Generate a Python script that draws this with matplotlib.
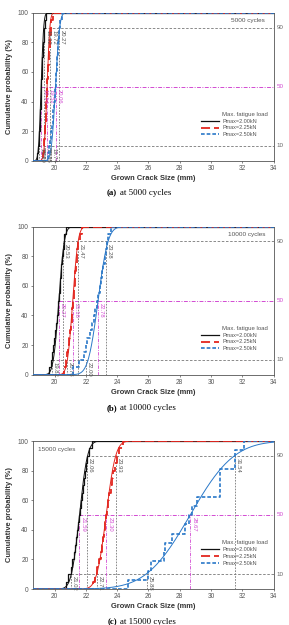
import math
import numpy as np
import matplotlib
matplotlib.use("Agg")
import matplotlib.pyplot as plt

plt.rcParams['font.family'] = ['Liberation Sans', 'DejaVu Sans']

# ---------------- data ----------------
cycles = ["5000", "10000", "15000"]
panel_letters = ["(a)", "(b)", "(c)"]
series_names = ["Pmax=2.00kN", "Pmax=2.25kN", "Pmax=2.50kN"]
legend_title = "Max. fatigue load"

# crack-size samples (mm)
a_black = [18.88, 18.95, 18.98, 19.01, 19.04, 19.06, 19.08, 19.10, 19.12, 19.14,
           19.16, 19.18, 19.20, 19.22, 19.25, 19.28, 19.31, 19.34, 19.38, 19.45]
a_red = [19.25, 19.31, 19.35, 19.38, 19.41, 19.43, 19.45, 19.47, 19.50, 19.52,
         19.54, 19.56, 19.59, 19.62, 19.65, 19.68, 19.71, 19.75, 19.80, 19.88]
a_blue = [19.55, 19.65, 19.72, 19.78, 19.84, 19.89, 19.93, 19.97, 20.01, 20.05,
          20.08, 20.11, 20.14, 20.17, 20.20, 20.23, 20.26, 20.30, 20.36, 20.46]
b_black = [19.62, 19.75, 19.82, 19.90, 19.97, 20.03, 20.09, 20.14, 20.19, 20.24,
           20.28, 20.32, 20.36, 20.40, 20.44, 20.48, 20.52, 20.57, 20.63, 20.72]
b_red = [20.62, 20.72, 20.79, 20.86, 20.93, 20.99, 21.04, 21.09, 21.13, 21.17,
         21.21, 21.25, 21.29, 21.33, 21.37, 21.41, 21.46, 21.52, 21.60, 21.74]
b_blue = [21.20, 21.55, 21.85, 22.00, 22.10, 22.25, 22.38, 22.50, 22.60, 22.70,
          22.80, 22.88, 22.96, 23.04, 23.12, 23.20, 23.27, 23.33, 23.42, 23.58]
c_black = [20.70, 20.85, 21.02, 21.12, 21.22, 21.30, 21.38, 21.45, 21.52, 21.58,
           21.64, 21.70, 21.76, 21.82, 21.88, 21.94, 22.02, 22.10, 22.20, 22.38]
c_red = [22.45, 22.60, 22.72, 22.85, 22.95, 23.05, 23.12, 23.19, 23.25, 23.30,
         23.36, 23.43, 23.50, 23.58, 23.66, 23.75, 23.88, 24.00, 24.15, 24.40]
c_blue = [24.67, 25.98, 26.15, 27.00, 27.07, 27.50, 28.37, 28.60, 28.80, 29.13,
          30.61, 30.61, 30.61, 31.52, 31.52, 32.13]

samples = [[a_black, a_red, a_blue], [b_black, b_red, b_blue], [c_black, c_red, c_blue]]

# 10 %, 50 %, 90 % crack sizes (labelled on chart)
p10 = [[18.99, 19.36, 19.74], [19.82, 20.78, 22.00], [21.02, 22.71, 25.88]]
p50 = [[19.14, 19.52, 20.06], [20.27, 21.16, 22.78], [21.59, 23.30, 28.67]]
p90 = [[19.32, 19.72, 20.27], [20.53, 21.47, 23.28], [22.06, 23.93, 31.54]]

prob_levels = [10, 50, 90]
x_ticks = [20, 22, 24, 26, 28, 30, 32, 34]
y_ticks = [0, 20, 40, 60, 80, 100]

# ---------------- style ----------------
colors = ['#111111', '#e3261f', '#2a78c8']
step_styles = [dict(ls='-', lw=0.9), dict(ls=(0, (5, 2.2)), lw=1.3), dict(ls=(0, (2.2, 1.2)), lw=1.2)]
gray = '#777777'
magenta = '#d24bd2'
XMIN, XMAX = 18.6, 34.0

fig = plt.figure(figsize=(2.89, 6.25), dpi=100)
bottoms = [1 - 160.7 / 625, 1 - 374.7 / 625, 1 - 589.0 / 625]
cap_y = [1 - 193.0 / 625, 1 - 407.7 / 625, 1 - 621.7 / 625]
cyc_pos = [(0.965, 0.945, 'right'), (0.965, 0.945, 'right'), (0.02, 0.945, 'left')]


def ncdf(x, mu, s):
    return np.array([0.5 * (1 + math.erf((v - mu) / (s * math.sqrt(2)))) for v in x]) * 100


xg = np.linspace(XMIN, XMAX, 500)

for k in range(3):
    ax = fig.add_axes([32.7 / 289, bottoms[k], 240.8 / 289, 148 / 625])
    ax.set_xlim(XMIN, XMAX)
    ax.set_ylim(0, 100)

    # reference horizontal lines
    ax.hlines(10, min(p10[k]), XMAX, colors=gray, linestyles=(0, (3, 2)), lw=0.6, zorder=1)
    ax.hlines(90, min(p90[k]), XMAX, colors=gray, linestyles=(0, (3, 2)), lw=0.6, zorder=1)
    ax.hlines(50, min(p50[k]), XMAX, colors=magenta, linestyles=(0, (4, 1.5, 1, 1.5)), lw=0.7, zorder=1)

    # vertical lines + labels
    for j in range(3):
        for vals, lev, col, ls in [(p10, 10, '#555555', (0, (2, 1.5))),
                                   (p50, 50, magenta, (0, (4, 1.5, 1, 1.5))),
                                   (p90, 90, '#555555', (0, (2, 1.5)))]:
            xv = vals[k][j]
            ax.vlines(xv, 0, lev, colors=col if lev == 50 else gray, linestyles=ls, lw=0.6, zorder=1)
            ax.annotate(f"{xv:.2f}", xy=(xv, lev), xytext=(0.8, -1.5), textcoords='offset points',
                        rotation=270, ha='left', va='top', fontsize=4.2, color=col, zorder=5)

    handles = []
    for j in range(3):
        s = sorted(samples[k][j])
        n = len(s)
        xs = [XMIN] + s + [XMAX]
        ys = [0] + [100.0 * (i + 1) / n for i in range(n)] + [100]
        # fitted normal CDF
        sig = (p90[k][j] - p10[k][j]) / (2 * 1.2816)
        ax.plot(xg, ncdf(xg, p50[k][j], sig), color=colors[j], lw=0.7, zorder=2 + j)
        h, = ax.plot(xs, ys, drawstyle='steps-post', color=colors[j], zorder=3 + j,
                     label=series_names[j], **step_styles[j])
        handles.append(h)

    # right side level labels
    for lev in prob_levels:
        ax.text(1.013, lev, str(lev), transform=ax.get_yaxis_transform(), fontsize=4.5,
                color=magenta if lev == 50 else '#666666', va='center', ha='left')

    ax.set_xticks(x_ticks)
    ax.set_yticks(y_ticks)
    ax.tick_params(labelsize=4.7, colors='#555555', length=1.5, width=0.5, pad=1.5)
    for sp in ax.spines.values():
        sp.set_color('#555555')
        sp.set_linewidth(0.6)
    ax.set_xlabel("Grown Crack Size (mm)", fontsize=5.4, fontweight='bold', color='#333333', labelpad=2)
    ax.set_ylabel("Cumulative probability (%)", fontsize=5.4, fontweight='bold', color='#333333', labelpad=3)

    cx, cy, cha = cyc_pos[k]
    ax.text(cx, cy, f"{cycles[k]} cycles", transform=ax.transAxes, fontsize=4.6, color='#555555',
            ha=cha, va='center')

    # legend
    ax.text(0.786, 0.315, legend_title, transform=ax.transAxes, fontsize=4.3, color='#555555',
            ha='left', va='center')
    leg = ax.legend(handles=handles, loc='upper left', bbox_to_anchor=(0.699, 0.285),
                    frameon=False, fontsize=4.0, handlelength=3.3, handletextpad=0.55,
                    labelspacing=0.35, borderpad=0, borderaxespad=0)
    for t in leg.get_texts():
        t.set_color('#555555')

    # caption
    fig.text(117 / 289, cap_y[k], panel_letters[k], fontsize=6.4, fontweight='bold',
             family=['Liberation Serif', 'DejaVu Serif'], ha='right', va='center')
    fig.text(120.5 / 289, cap_y[k], f"at {cycles[k]} cycles", fontsize=6.4,
             family=['Liberation Serif', 'DejaVu Serif'], ha='left', va='center')

fig.savefig("out.png", dpi=100)
